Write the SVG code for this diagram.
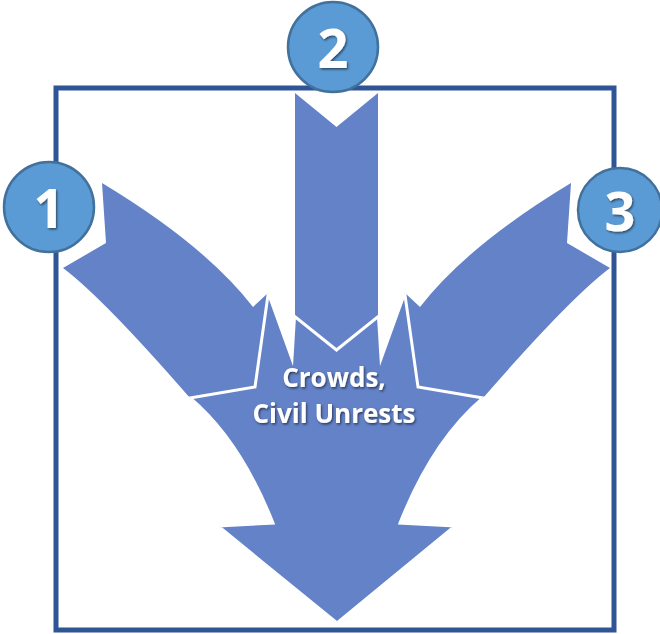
<svg xmlns="http://www.w3.org/2000/svg" width="660" height="634" viewBox="0 0 660 634">
  <defs>
    <style>
      .frame { fill: none; stroke: #2f5597; stroke-width: 5; }
      .arrow { fill: #6382c8; }
      .center { fill: #6382c8; stroke: #ffffff; stroke-width: 3; stroke-linejoin: miter; }
      .gap { fill: #ffffff; }
      .badge { fill: #5b9bd5; stroke: #41719c; stroke-width: 2.5; }
      .num { fill: #ffffff; font-family: "Open Sans", "Liberation Sans", sans-serif; font-weight: 700; font-size: 54px; text-anchor: middle; }
      .label { fill: #ffffff; font-family: "Open Sans", "Liberation Sans", sans-serif; font-weight: 700; font-size: 26px; text-anchor: middle; }
    </style>
    <filter id="shadow" x="-20%" y="-20%" width="140%" height="140%">
      <feDropShadow dx="1.2" dy="1.5" stdDeviation="1" flood-color="#000000" flood-opacity="0.55"/>
    </filter>
  </defs>

  <rect id="frame" class="frame" x="56" y="88" width="558" height="542"/>

  <g id="connectors">
    <path id="arrow1" class="arrow" d="M102,183 Q205,245 253,307 L268,293 L320,400 L190,398 Q103,298 63,268 L106,243 Z"/>
    <path id="arrow3" class="arrow" transform="translate(673,0) scale(-1,1)" d="M102,183 Q205,245 253,307 L268,293 L320,400 L190,398 Q103,298 63,268 L106,243 Z"/>
    <path id="arrow2" class="arrow" d="M295,93 L336.5,127 L378,93 L378,400 L295,400 Z"/>
    <path id="merge" class="center" d="M190,398 L255,387 L268,295 L336.5,350 L405,295 L418,387 L483,398 Q433,440 400,523 L455,526 L337,623 L218,526 L273,523 Q240,440 190,398 Z"/>
    <polygon class="gap" points="267,294 296,317 293,366"/>
    <polygon class="gap" points="406,294 377,317 380,366"/>
  </g>

  <g id="center-label" filter="url(#shadow)">
    <text class="label" x="334" y="387">Crowds,</text>
    <text class="label" x="334" y="423">Civil Unrests</text>
  </g>

  <g id="node1">
    <circle class="badge" cx="49" cy="207" r="45"/>
    <text class="num" x="49" y="228" filter="url(#shadow)">1</text>
  </g>
  <g id="node2">
    <circle class="badge" cx="333" cy="47" r="45"/>
    <text class="num" x="333" y="68" filter="url(#shadow)">2</text>
  </g>
  <g id="node3">
    <circle class="badge" cx="620" cy="210" r="42"/>
    <text class="num" x="620" y="231" filter="url(#shadow)">3</text>
  </g>
</svg>
